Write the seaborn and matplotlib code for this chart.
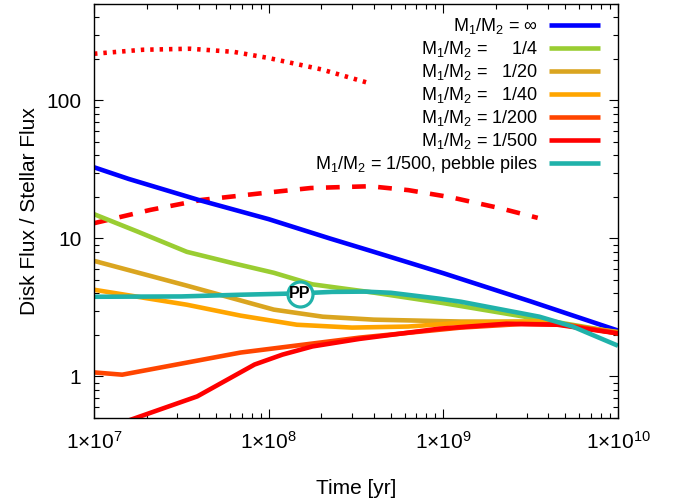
import numpy as np
import pandas as pd
import matplotlib
matplotlib.use("Agg")
import matplotlib.pyplot as plt
import matplotlib.ticker as mticker
import seaborn as sns

# ---------------- data ----------------
t_inf = [1.0e7, 1.58e7, 3.98e7, 1.0e8, 2.24e8, 4.0e8, 1.0e9, 3.16e9, 1.0e10]
f_inf = [32.8, 27.0, 19.0, 13.8, 10.0, 8.0, 5.6, 3.5, 2.15]

t_4 = [1.0e7, 1.78e7, 3.4e7, 6.3e7, 1.07e8, 1.78e8, 4.0e8, 1.0e9, 3.55e9, 1.0e10]
f_4 = [15.0, 11.2, 8.0, 6.6, 5.64, 4.65, 4.05, 3.4, 2.6, 2.08]

t_20 = [1.0e7, 3.4e7, 1.07e8, 2.04e8, 4.0e8, 1.26e9, 3.55e9, 1.0e10]
f_20 = [6.88, 4.55, 3.05, 2.71, 2.58, 2.5, 2.5, 2.1]

t_40 = [1.0e7, 3.4e7, 6.9e7, 1.45e8, 3.0e8, 6.3e8, 1.26e9, 3.55e9, 1.0e10]
f_40 = [4.25, 3.31, 2.76, 2.37, 2.26, 2.30, 2.45, 2.5, 2.06]

t_200 = [1.0e7, 1.45e7, 6.9e7, 3.3e8, 1.26e9, 2.8e9, 5.0e9, 1.0e10]
f_200 = [1.07, 1.03, 1.49, 1.91, 2.26, 2.4, 2.38, 2.05]

t_500 = [1.58e7, 3.9e7, 8.3e7, 1.2e8, 1.78e8, 3.3e8, 9.5e8, 2.3e9, 4.5e9, 1.0e10]
f_500 = [0.48, 0.717, 1.22, 1.44, 1.65, 1.87, 2.22, 2.41, 2.37, 2.05]

t_pp = [1.0e7, 3.16e7, 6.9e7, 1.5e8, 2.3e8, 3.55e8, 5.0e8, 9.5e8, 1.26e9, 3.55e9, 5.5e9, 1.0e10]
f_pp = [3.78, 3.8, 3.91, 4.0, 4.1, 4.12, 4.04, 3.66, 3.48, 2.71, 2.3, 1.67]

t_dash = [1.0e7, 2.1e7, 4.1e7, 8.9e7, 1.74e8, 3.8e8, 6.3e8, 1.1e9, 2.1e9, 3.47e9]
f_dash = [12.9, 16.1, 19.0, 21.2, 23.2, 23.9, 22.4, 19.9, 16.6, 14.1]

t_dot = [1.0e7, 1.9e7, 3.55e7, 6.3e7, 1.0e8, 2.0e8, 3.8e8]
f_dot = [218, 233, 237, 225, 203, 168, 133]

pp_time = [1.51e8]
pp_flux = [3.97]

labels = [r"M$_1$/M$_2$ = ∞",
          r"M$_1$/M$_2$ =     1/4",
          r"M$_1$/M$_2$ =   1/20",
          r"M$_1$/M$_2$ =   1/40",
          r"M$_1$/M$_2$ = 1/200",
          r"M$_1$/M$_2$ = 1/500",
          r"M$_1$/M$_2$ = 1/500, pebble piles"]
colors = ["#0000FF", "#9ACD32", "#DAA520", "#FFA500", "#FF4500", "#FF0000", "#20B2AA"]

xticks = [1e7, 1e8, 1e9, 1e10]
yticks = [1, 10, 100]

# ---------------- style ----------------
sns.set_theme(style="white")
plt.rcParams["font.family"] = ["Liberation Sans", "DejaVu Sans"]
plt.rcParams["mathtext.default"] = "regular"
plt.rcParams["axes.edgecolor"] = "black"
plt.rcParams["axes.linewidth"] = 1.0
plt.rcParams["text.color"] = "black"
plt.rcParams["axes.labelcolor"] = "black"
plt.rcParams["xtick.color"] = "black"
plt.rcParams["ytick.color"] = "black"

fig = plt.figure(figsize=(6.86, 5.01), dpi=100)
ax = fig.add_axes([94 / 686, 1 - 418 / 501, (618 - 94) / 686, (418 - 4) / 501])

lw = 3.3
series = [(t_inf, f_inf), (t_4, f_4), (t_20, f_20), (t_40, f_40),
          (t_200, f_200), (t_500, f_500), (t_pp, f_pp)]

# unlabelled red dotted / dashed curves
sns.lineplot(x=t_dot, y=f_dot, ax=ax, color="#FF0000", lw=lw, estimator=None,
             errorbar=None, dashes=(0.75, 1.3), dash_capstyle="butt")
sns.lineplot(x=t_dash, y=f_dash, ax=ax, color="#FF0000", lw=lw, estimator=None,
             errorbar=None, dashes=(3.0, 2.7), dash_capstyle="butt")

for (tx, fy), lab, col in zip(series, labels, colors):
    sns.lineplot(x=tx, y=fy, ax=ax, color=col, lw=lw, label=lab,
                 estimator=None, errorbar=None, solid_capstyle="butt")

# PP marker
ax.plot(pp_time, pp_flux, marker="o", ms=18, mfc="white", mec="#20B2AA",
        mew=2.3, ls="none", zorder=10)
ax.text(pp_time[0], pp_flux[0], "PP", ha="center", va="center",
        fontsize=11.5, fontweight="bold", color="black", zorder=11)

ax.set_xscale("log")
ax.set_yscale("log")
ax.set_xlim(1e7, 1e10)
ax.set_ylim(0.5, 500)

ax.xaxis.set_major_locator(mticker.FixedLocator(xticks))
ax.xaxis.set_major_formatter(mticker.FuncFormatter(
    lambda v, p: "1×10$^{%d}$" % int(round(np.log10(v)))))
ax.xaxis.set_minor_locator(mticker.LogLocator(base=10, subs=np.arange(2, 10), numticks=20))
ax.xaxis.set_minor_formatter(mticker.NullFormatter())
ax.yaxis.set_major_locator(mticker.FixedLocator(yticks))
ax.yaxis.set_major_formatter(mticker.FuncFormatter(lambda v, p: "%g" % v))
ax.yaxis.set_minor_locator(mticker.LogLocator(base=10, subs=np.arange(2, 10), numticks=20))
ax.yaxis.set_minor_formatter(mticker.NullFormatter())

ax.tick_params(which="both", direction="in", top=True, right=True,
               bottom=True, left=True, color="black", width=0.8)
ax.tick_params(which="major", length=6.5, pad=9, labelsize=15)
ax.tick_params(which="minor", length=3.6)

ax.set_xlabel("Time [yr]", fontsize=15, labelpad=19)
ax.set_ylabel("Disk Flux / Stellar Flux", fontsize=15, labelpad=5)

leg = ax.legend(loc="upper right", bbox_to_anchor=(0.965, 0.971), frameon=False,
                markerfirst=False, fontsize=13, handlelength=2.8,
                handletextpad=0.6, labelspacing=0.165, borderaxespad=0.0,
                borderpad=0.0)
for h in leg.get_lines():
    h.set_linewidth(lw)

fig.savefig("out.png", dpi=100)
